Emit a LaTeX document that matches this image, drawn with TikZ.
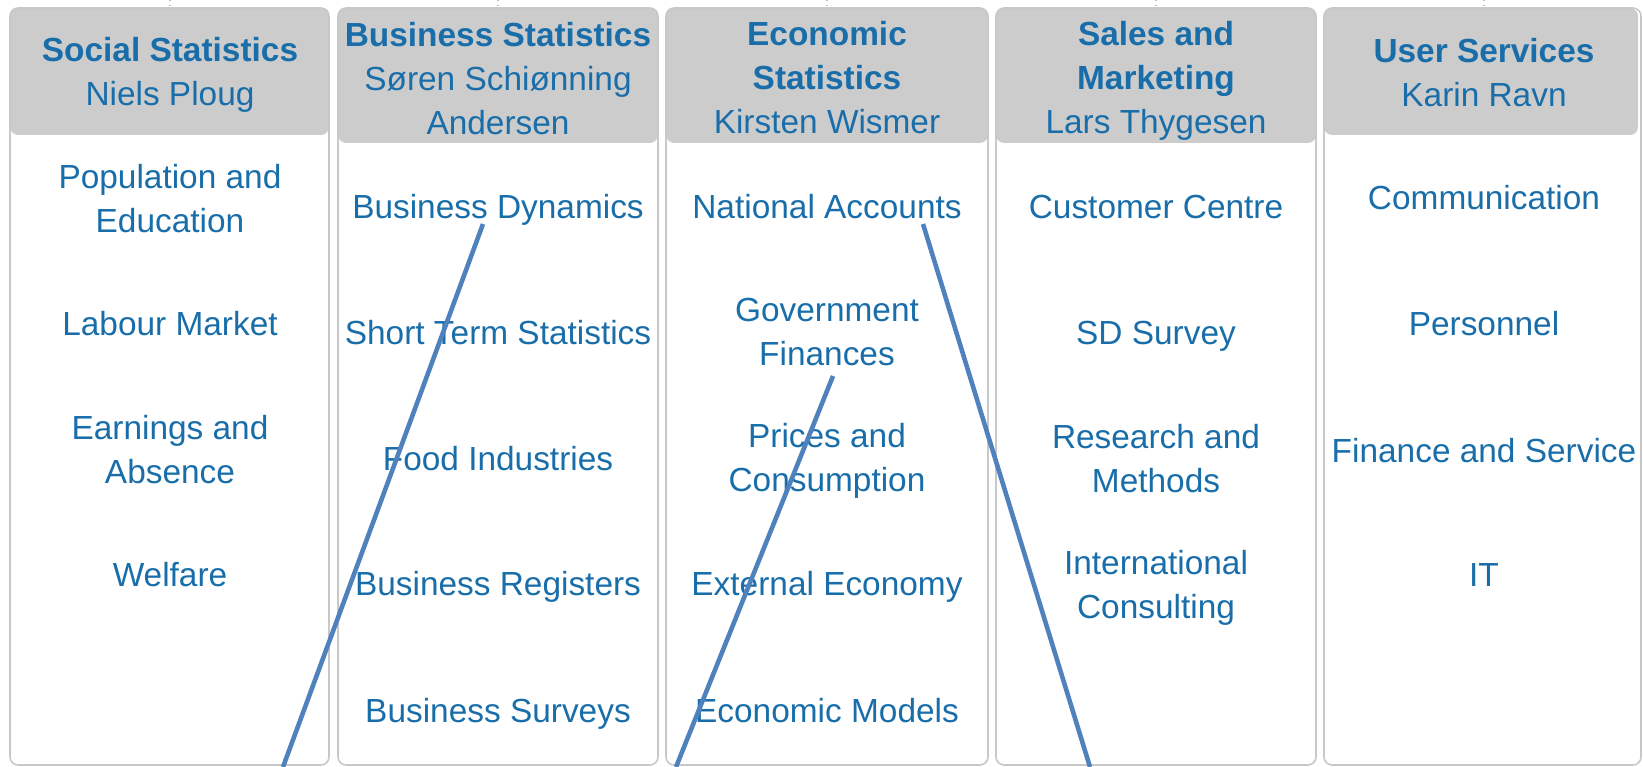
\documentclass[tikz,border=0pt]{standalone}
\usepackage{fontspec}
\setmainfont{Liberation Sans}
\usepackage{tikz}

\definecolor{deptblue}{RGB}{25,110,170}
\definecolor{headgray}{RGB}{204,204,204}
\definecolor{framegray}{RGB}{200,200,200}
\definecolor{penblue}{RGB}{79,129,189}

\begin{document}
\begin{tikzpicture}[x=0.01cm,y=-0.01cm,
  head/.style={fill=headgray,rounded corners=2.3pt},
  frame/.style={draw=framegray,line width=0.45pt,rounded corners=2.3pt},
  tick/.style={draw=gray!50,line width=0.3pt,densely dotted},
  txt/.style={text=deptblue,align=center,inner sep=0pt,font=\fontsize{9.5}{12.5}\selectfont},
  penline/.style={draw=penblue,line width=1.3pt}]

\useasboundingbox (0,0) rectangle (1643,767);

% ticks from the chart above
\draw [tick] (170,0) -- (170,6);
\draw [tick] (498,0) -- (498,6);
\draw [tick] (827,0) -- (827,6);
\draw [tick] (1156,0) -- (1156,6);
\draw [tick] (1484,0) -- (1484,6);

% header fills
\fill [head] (10,8) rectangle (329,135);
\fill [head] (338,8) rectangle (658,143);
\fill [head] (666,8) rectangle (988,143);
\fill [head] (996,8) rectangle (1316,143);
\fill [head] (1324,8) rectangle (1638,135);

% column frames
\draw [frame] (10,8) rectangle (329,765);
\draw [frame] (338,8) rectangle (658,765);
\draw [frame] (666,8) rectangle (988,765);
\draw [frame] (996,8) rectangle (1316,765);
\draw [frame] (1324,8) rectangle (1641,765);

% headers
\node [txt] (social) at (170,75) {\textbf{Social Statistics}\\Niels Ploug};
\node [txt] (business) at (498,79) {\textbf{Business Statistics}\\Søren Schiønning\\Andersen};
\node [txt] (economic) at (827,78) {\textbf{Economic}\\\textbf{Statistics}\\Kirsten Wismer};
\node [txt] (sales) at (1156,81) {\textbf{Sales and}\\\textbf{Marketing}\\Lars Thygesen};
\node [txt] (user) at (1484,73) {\textbf{User Services}\\Karin Ravn};

% social statistics
\node [txt] (popedu) at (170,199) {Population and\\Education};
\node [txt] (labour) at (170,324) {Labour Market};
\node [txt] (earnings) at (170,450) {Earnings and\\Absence};
\node [txt] (welfare) at (170,575) {Welfare};

% business statistics
\node [txt] (dynamics) at (498,210) {Business Dynamics};
\node [txt] (shortterm) at (498,333) {Short Term Statistics};
\node [txt] (food) at (498,459) {Food Industries};
\node [txt] (registers) at (498,587) {Business Registers};
\node [txt] (surveys) at (498,714) {Business Surveys};

% economic statistics
\node [txt] (national) at (827,207) {National Accounts};
\node [txt] (government) at (827,332) {Government\\Finances};
\node [txt] (prices) at (827,461) {Prices and\\Consumption};
\node [txt] (external) at (827,587) {External Economy};
\node [txt] (models) at (827,711) {Economic Models};

% sales and marketing
\node [txt] (customer) at (1156,207) {Customer Centre};
\node [txt] (sdsurvey) at (1156,336) {SD Survey};
\node [txt] (research) at (1156,459) {Research and\\Methods};
\node [txt] (international) at (1156,588) {International\\Consulting};

% user services
\node [txt] (communication) at (1484,198) {Communication};
\node [txt] (personnel) at (1484,324) {Personnel};
\node [txt] (finance) at (1484,451) {Finance and Service};
\node [txt] (it) at (1484,575) {IT};

% pen strokes
\coordinate (dynTop) at (483,224);
\coordinate (dynFoot) at (283,767);
\coordinate (finTop) at (833,376);
\coordinate (finFoot) at (676,767);
\coordinate (natTop) at (923,224);
\coordinate (natFoot) at (1090,767);

\draw [penline] (dynTop) -- (dynFoot);
\draw [penline] (finTop) -- (finFoot);
\draw [penline] (natTop) -- (natFoot);

\end{tikzpicture}
\end{document}
